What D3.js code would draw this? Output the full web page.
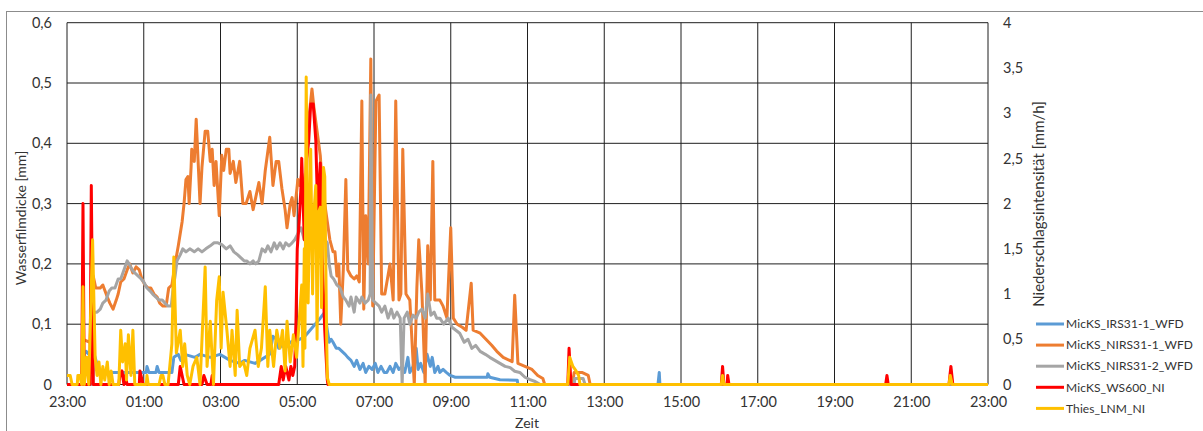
<!DOCTYPE html>
<html>
<head>
<meta charset="utf-8">
<script src="https://cdn.jsdelivr.net/npm/d3@7"></script>
<style>
  body { margin: 0; background: #fff; }
  svg { font-family: Lato, "Open Sans", sans-serif; }
  .tick text { fill: #333; }
</style>
</head>
<body>
<div id="chart"></div>
<script>
// time in minutes after 23:00, value in mm (left axis) or mm/h (right axis)
const xTickHours = [0, 2, 4, 6, 8, 10, 12, 14, 16, 18, 20, 22, 24];
const leftTicks = [0, 0.1, 0.2, 0.3, 0.4, 0.5, 0.6];
const rightTicks = [0, 0.5, 1, 1.5, 2, 2.5, 3, 3.5, 4];

const seriesNames = ["MicKS_IRS31-1_WFD", "MicKS_NIRS31-1_WFD", "MicKS_NIRS31-2_WFD", "MicKS_WS600_NI", "Thies_LNM_NI"];
const seriesColors = ["#5B9BD5", "#ED7D31", "#A5A5A5", "#FF0000", "#FFC000"];

const irs31Data = [[0,0],[23,0],[27,0.05],[30,0.055],[34,0.05],[39,0.06],[44,0.045],[48,0.03],[52,0.02],[124,0.02],[125,0.03],[128,0.02],
  [139,0.02],[141,0.03],[144,0.02],[164,0.02],[167,0.045],[174,0.05],[178,0.04],[184,0.05],[200,0.045],[208,0.05],[224,0.045],[239,0.05],
  [247,0.045],[255,0.04],[270,0.035],[278,0.04],[294,0.035],[302,0.04],[317,0.05],[322,0.08],[327,0.075],[331,0.06],[336,0.065],[341,0.06],
  [349,0.07],[364,0.075],[372,0.08],[380,0.09],[388,0.1],[396,0.11],[403,0.12],[407,0.09],[410,0.07],[413,0.075],[416,0.07],[421,0.06],
  [425,0.06],[430,0.055],[435,0.05],[439,0.045],[444,0.04],[449,0.03],[453,0.04],[458,0.025],[463,0.035],[467,0.02],[472,0.03],[477,0.025],
  [482,0.035],[486,0.02],[491,0.03],[496,0.02],[500,0.02],[505,0.03],[510,0.02],[514,0.035],[519,0.025],[524,0.03],[528,0.02],[533,0.045],
  [536,0.02],[541,0.03],[546,0.06],[549,0.025],[553,0.035],[558,0.02],[563,0.05],[568,0.03],[571,0.045],[575,0.02],[580,0.03],[583,0.02],
  [588,0.025],[593,0.02],[599,0.015],[607,0.012],[657,0.012],[658,0.018],[661,0.012],[677,0.008],[704,0.007],[705,0],[924,0],[926,0.02],
  [927,0],[1440,0]];

const nirs311Data = [[0,0],[23,0],[25,0.075],[36,0.07],[41,0.18],[45,0.16],[52,0.16],[56,0.165],[63,0.145],[67,0.135],[72,0.125],[77,0.14],
  [80,0.15],[84,0.17],[89,0.175],[94,0.19],[98,0.2],[103,0.185],[108,0.195],[113,0.19],[117,0.175],[122,0.165],[127,0.16],[131,0.16],
  [136,0.15],[141,0.145],[145,0.135],[150,0.13],[155,0.13],[159,0.16],[164,0.165],[169,0.2],[174,0.23],[177,0.25],[180,0.27],[183,0.3],
  [186,0.34],[189,0.345],[191,0.3],[194,0.36],[195,0.39],[199,0.37],[202,0.44],[205,0.37],[208,0.3],[211,0.36],[216,0.42],[220,0.42],
  [224,0.37],[227,0.39],[230,0.33],[233,0.37],[238,0.28],[242,0.38],[245,0.355],[249,0.39],[253,0.39],[255,0.35],[260,0.37],[264,0.335],
  [270,0.37],[275,0.3],[280,0.3],[286,0.32],[291,0.29],[295,0.31],[300,0.335],[305,0.3],[310,0.355],[317,0.41],[322,0.33],[327,0.37],
  [331,0.37],[336,0.325],[341,0.29],[344,0.26],[349,0.3],[352,0.31],[355,0.28],[358,0.31],[361,0.34],[364,0.33],[367,0.35],[372,0.32],
  [377,0.43],[383,0.49],[386,0.46],[391,0.42],[396,0.38],[399,0.33],[403,0.3],[407,0.27],[411,0.24],[416,0.22],[419,0.22],[422,0.18],
  [425,0.2],[428,0.1],[432,0.19],[436,0.34],[439,0.19],[444,0.18],[449,0.175],[453,0.18],[457,0.17],[461,0.47],[464,0.125],[467,0.28],
  [471,0.2],[475,0.54],[478,0.13],[483,0.47],[488,0.48],[492,0.15],[497,0.15],[505,0.2],[510,0.14],[514,0.47],[519,0.14],[522,0.15],
  [525,0.39],[530,0.15],[536,0.14],[543,0],[547,0.16],[550,0.24],[555,0.15],[560,0],[564,0.23],[568,0.14],[572,0.37],[575,0.14],
  [583,0.14],[588,0.13],[594,0.11],[600,0.26],[604,0.11],[610,0.1],[618,0.095],[624,0.09],[632,0.168],[635,0.09],[646,0.085],[655,0.075],
  [664,0.065],[672,0.055],[682,0.045],[696,0.038],[700,0.148],[705,0.035],[716,0.03],[727,0.025],[736,0.015],[744,0.01],[747,0],[790,0],
  [793,0.02],[805,0.02],[815,0.015],[818,0],[1440,0]];

const nirs312Data = [[0,0],[41,0],[42,0.12],[47,0.12],[52,0.125],[56,0.135],[61,0.14],[66,0.155],[70,0.16],[75,0.16],[80,0.175],[84,0.175],
  [89,0.19],[94,0.205],[97,0.2],[102,0.19],[106,0.185],[111,0.18],[116,0.175],[120,0.17],[125,0.16],[130,0.155],[134,0.15],[139,0.145],
  [144,0.14],[149,0.14],[153,0.135],[158,0.13],[163,0.13],[166,0.16],[169,0.18],[172,0.205],[177,0.215],[181,0.225],[186,0.22],[192,0.225],
  [199,0.22],[205,0.225],[211,0.22],[217,0.225],[224,0.23],[230,0.235],[236,0.235],[242,0.232],[249,0.225],[255,0.23],[261,0.22],[267,0.215],
  [272,0.21],[277,0.205],[281,0.205],[286,0.2],[291,0.205],[295,0.2],[300,0.205],[305,0.225],[310,0.22],[314,0.23],[319,0.22],[324,0.235],
  [328,0.225],[333,0.235],[338,0.225],[342,0.235],[347,0.23],[352,0.235],[356,0.24],[361,0.25],[366,0.26],[371,0.24],[375,0.235],[380,0.25],
  [385,0.24],[389,0.245],[394,0.23],[399,0.24],[403,0.24],[407,0.235],[410,0.2],[413,0.18],[417,0.175],[422,0.165],[427,0.16],[432,0.145],
  [436,0.14],[441,0.13],[444,0.145],[449,0.12],[452,0.145],[455,0.14],[458,0.135],[461,0.145],[466,0.135],[471,0.14],[474,0.15],[475,0.48],
  [478,0.14],[483,0.135],[488,0.13],[492,0.12],[497,0.13],[502,0.11],[507,0.125],[511,0.11],[516,0.12],[521,0.11],[524,0],[527,0.11],
  [532,0.12],[536,0.1],[541,0.115],[546,0.11],[550,0.12],[555,0.125],[560,0.11],[564,0.15],[569,0.115],[574,0.12],[578,0.11],[583,0.11],
  [589,0.1],[596,0.11],[602,0.095],[608,0.09],[614,0.085],[621,0.07],[627,0.075],[633,0.06],[639,0.065],[646,0.055],[654,0.05],[661,0.045],
  [669,0.04],[677,0.035],[685,0.03],[693,0.028],[700,0.022],[708,0.02],[716,0.012],[724,0.008],[732,0.005],[740,0],[793,0],[794,0.01],
  [807,0.01],[810,0],[1440,0]];

const ws600Data = [[0,0],[23,0],[25,2.0],[27,0],[36,0],[38,2.2],[41,0],[81,0],[83,0.12],[86,0.15],[89,0],[91,0.1],[94,0],[113,0],[114,0.15],
  [119,0],[174,0],[177,0.2],[180,0.1],[183,0],[211,0],[214,0.1],[219,0],[225,0],[227,0.1],[228,0],[331,0],[335,0.2],[338,0.05],[342,0.2],
  [347,0.05],[350,0.2],[353,0.1],[356,0.2],[358,0.7],[360,1.5],[363,1.8],[366,2.2],[367,2.5],[371,1.6],[375,2.5],[378,2.7],[381,3.1],
  [385,3.1],[389,2.7],[392,1.9],[396,2.45],[399,1.4],[403,0.6],[407,0.05],[408,0],[783,0],[785,0.4],[788,0],[1023,0],[1025,0.2],[1027,0],
  [1032,0],[1033,0.1],[1035,0],[1280,0],[1282,0.1],[1284,0],[1379,0],[1382,0.2],[1385,0],[1440,0]];

const thiesData = [[0,0.1],[5,0.1],[8,0],[16,0],[17,0.1],[20,0.1],[23,0],[25,1.08],[27,0],[31,0.3],[34,0],[40,1.6],[44,0.3],[47,0.1],
  [50,0.25],[53,0],[56,0.2],[59,0.05],[63,0.25],[66,0],[69,0.15],[72,0],[81,0],[84,0.6],[87,0.25],[91,0.45],[93,0.05],[96,0.55],[100,0.1],
  [103,0.6],[106,0],[124,0],[125,0.1],[127,0],[144,0],[147,0.1],[150,0.1],[153,0],[158,0],[164,0.45],[167,1.41],[171,0.35],[177,0.6],
  [181,0.2],[184,0.45],[188,0.1],[192,0],[197,0.2],[203,0.3],[208,0],[216,1.3],[219,0.2],[224,0.7],[229,0],[234,0.93],[238,1.19],[241,0.4],
  [244,1.02],[250,0.6],[255,0.2],[258,0.6],[263,0.1],[266,0.82],[270,0.2],[276,0.25],[281,0.1],[286,0.4],[294,0.6],[299,0.2],[304,0.4],
  [310,1.08],[314,0.2],[317,0.6],[323,0.2],[328,0.6],[333,0.4],[337,0.6],[341,0.15],[344,0.7],[349,0.25],[354,0.55],[359,0.3],[363,0.7],
  [367,1.1],[369,0.2],[371,1.5],[372,0.4],[374,3.4],[377,0.9],[381,2.6],[384,1.0],[386,1.9],[389,2.2],[391,0.5],[393,1.9],[396,1.96],
  [398,0.85],[401,2.4],[403,2.3],[406,0.5],[407,0.08],[410,0],[783,0],[786,0.3],[791,0.2],[796,0.15],[800,0.1],[802,0],[1023,0],[1025,0.1],
  [1027,0],[1379,0],[1381,0.1],[1384,0],[1440,0]];

const svgWidth = 1203;
const svgHeight = 431;
const plot = { left: 67, right: 988, top: 22.7, bottom: 384.5 };

const start = new Date(2020, 0, 1, 23, 0);
const toDate = m => new Date(start.getTime() + m * 60000);

const de = d3.formatLocale({ decimal: ",", thousands: ".", grouping: [3], currency: ["", " €"] });
const fmt = de.format(".1~f");

const svg = d3.select("#chart").append("svg")
  .attr("width", svgWidth)
  .attr("height", svgHeight);

// outer chart frame
svg.append("rect")
  .attr("x", 6.5).attr("y", 11.5)
  .attr("width", 1205).attr("height", 440)
  .attr("fill", "none")
  .attr("stroke", "#8c8c8c");

const x = d3.scaleTime()
  .domain([toDate(0), toDate(1440)])
  .range([plot.left, plot.right]);
const yLeft = d3.scaleLinear().domain([0, 0.6]).range([plot.bottom, plot.top]);
const yRight = d3.scaleLinear().domain([0, 4]).range([plot.bottom, plot.top]);

const xTicks = xTickHours.map(h => toDate(h * 60));

// gridlines
const grid = svg.append("g").attr("stroke", "#1f1f1f").attr("stroke-width", 1);
grid.selectAll(".hgrid").data(leftTicks).enter().append("line")
  .attr("x1", plot.left).attr("x2", plot.right)
  .attr("y1", d => yLeft(d)).attr("y2", d => yLeft(d));
grid.selectAll(".vgrid").data(xTicks).enter().append("line")
  .attr("x1", d => x(d)).attr("x2", d => x(d))
  .attr("y1", plot.top).attr("y2", plot.bottom);

// axes (labels only)
const leftAxis = svg.append("g")
  .attr("transform", `translate(${plot.left},0)`)
  .call(d3.axisLeft(yLeft).tickValues(leftTicks).tickFormat(fmt).tickSize(0).tickPadding(15));
const rightAxis = svg.append("g")
  .attr("transform", `translate(${plot.right},0)`)
  .call(d3.axisRight(yRight).tickValues(rightTicks).tickFormat(fmt).tickSize(0).tickPadding(15));
const bottomAxis = svg.append("g")
  .attr("transform", `translate(0,${plot.bottom})`)
  .call(d3.axisBottom(x).tickValues(xTicks).tickFormat(d3.timeFormat("%H:%M")).tickSize(0).tickPadding(12));

[leftAxis, rightAxis, bottomAxis].forEach(a => {
  a.select(".domain").remove();
  a.selectAll("text").attr("font-size", 14.5).attr("font-family", "Lato");
});

// axis titles
svg.append("text")
  .attr("transform", "translate(26,218) rotate(-90)")
  .attr("text-anchor", "middle")
  .attr("font-size", 14)
  .attr("fill", "#333")
  .text("Wasserfilmdicke [mm]");
svg.append("text")
  .attr("transform", "translate(1044,204) rotate(-90)")
  .attr("text-anchor", "middle")
  .attr("font-size", 15)
  .attr("fill", "#333")
  .text("Niederschlagsintensität [mm/h]");
svg.append("text")
  .attr("x", 527).attr("y", 428)
  .attr("text-anchor", "middle")
  .attr("font-size", 14)
  .attr("fill", "#333")
  .text("Zeit");

// series
const lineLeft = d3.line().x(d => x(toDate(d[0]))).y(d => yLeft(d[1]));
const lineRight = d3.line().x(d => x(toDate(d[0]))).y(d => yRight(d[1]));

const series = [
  { data: irs31Data, line: lineLeft },
  { data: nirs311Data, line: lineLeft },
  { data: nirs312Data, line: lineLeft },
  { data: ws600Data, line: lineRight },
  { data: thiesData, line: lineRight }
];

svg.append("g").selectAll("path")
  .data(series)
  .enter()
  .append("path")
  .attr("d", d => d.line(d.data))
  .attr("fill", "none")
  .attr("stroke", (d, i) => seriesColors[i])
  .attr("stroke-width", 3)
  .attr("stroke-linejoin", "round");

// legend
const legend = svg.append("g").attr("transform", "translate(1036,324)");
const items = legend.selectAll("g")
  .data(seriesNames)
  .enter()
  .append("g")
  .attr("transform", (d, i) => `translate(0,${i * 21.1})`);
items.append("line")
  .attr("x1", 0).attr("x2", 28)
  .attr("stroke", (d, i) => seriesColors[i])
  .attr("stroke-width", 3);
items.append("text")
  .attr("x", 30).attr("y", 0)
  .attr("dy", "0.35em")
  .attr("font-size", 12)
  .attr("letter-spacing", 0.1)
  .attr("fill", "#333")
  .text(d => d);
</script>
</body>
</html>
